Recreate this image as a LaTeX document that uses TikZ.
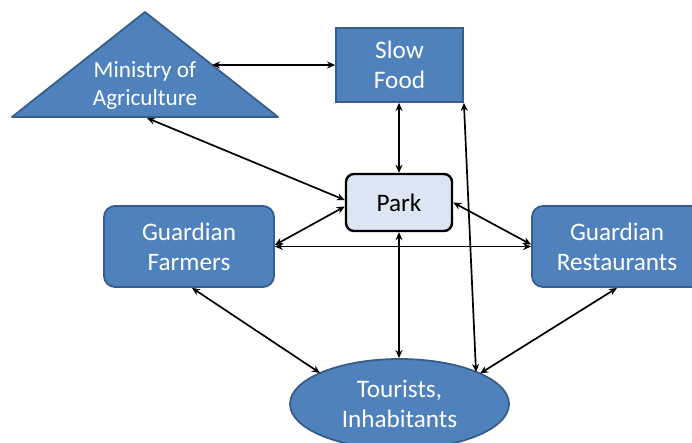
\documentclass[tikz,border=0pt]{standalone}
\usepackage{fontspec}
\setmainfont{Carlito}
\usetikzlibrary{shapes.geometric,arrows.meta,calc}
\definecolor{boxfill}{HTML}{4F81BD}
\definecolor{boxline}{HTML}{385D8A}
\definecolor{parkfill}{HTML}{DCE6F2}
\tikzset{
  bluebox/.style={draw=boxline, line width=1.8pt, fill=boxfill, text=white, align=center, inner sep=0pt,
    font=\fontsize{25.2}{30}\selectfont},
  link/.style={{Stealth[length=8pt,width=7pt]}-{Stealth[length=8pt,width=7pt]}, line width=1.7pt, black},
}
\begin{document}
\begin{tikzpicture}[x=1pt,y=-1pt]
\useasboundingbox (0,0) rectangle (692,443);
\begin{scope}
\clip (0,0) rectangle (692,443);
% Ministry triangle
\coordinate (mtop) at (145,12);
\coordinate (mleft) at (12,117);
\coordinate (mright) at (278,117);
\draw[draw=boxline, line width=1.8pt, fill=boxfill, line join=round] (mtop) -- (mright) -- (mleft) -- cycle;
\node[text=white, align=center, font=\fontsize{23.2}{28}\selectfont] (min) at (145,86) {Ministry of\\Agriculture};
\coordinate (minr) at (212,65);
\coordinate (minb) at (147,118);
% boxes
\node[bluebox, minimum width=127pt, minimum height=74pt] (sf) at (399.5,65) {Slow\\Food};
\node[draw=black, line width=2.4pt, fill=parkfill, rounded corners=8pt, minimum width=106pt, minimum height=57pt,
  inner sep=0pt, font=\fontsize{25.2}{30}\selectfont] (park) at (399,202.5) {Park};
\node[bluebox, rounded corners=11pt, minimum width=170pt, minimum height=81pt] (gf) at (189,246.5) {Guardian\\Farmers};
\node[bluebox, rounded corners=11pt, minimum width=170pt, minimum height=81pt] (gr) at (617,246.5) {Guardian\\Restaurants};
\node[bluebox, ellipse, minimum width=219pt, minimum height=90pt] (tour) at (399.5,404) {Tourists,\\Inhabitants};
\end{scope}
% connectors
\draw[link] (minr) -- (sf.west |- minr);
\draw[link] (minb) -- ($(park.west)+(0,-2.5)$);
\draw[link] (sf.south -| park.north) -- (park.north);
\draw[link] (sf.south east) -- ($(tour.center)+(76.5,-32)$);
\draw[link] ($(park.west)+(0,4)$) -- ($(gf.east)+(0,-1.5)$);
\draw[link] (gf.east) -- (gr.west);
\draw[link] (park.east) -- ($(gr.west)+(0,-2)$);
\draw[link] (park.south) -- (park.south |- tour.north);
\draw[link] ($(gf.south)+(3,0)$) -- ($(tour.center)+(-79.5,-31)$);
\draw[link] (gr.south) -- ($(tour.center)+(80.5,-30.5)$);
\end{tikzpicture}
\end{document}
